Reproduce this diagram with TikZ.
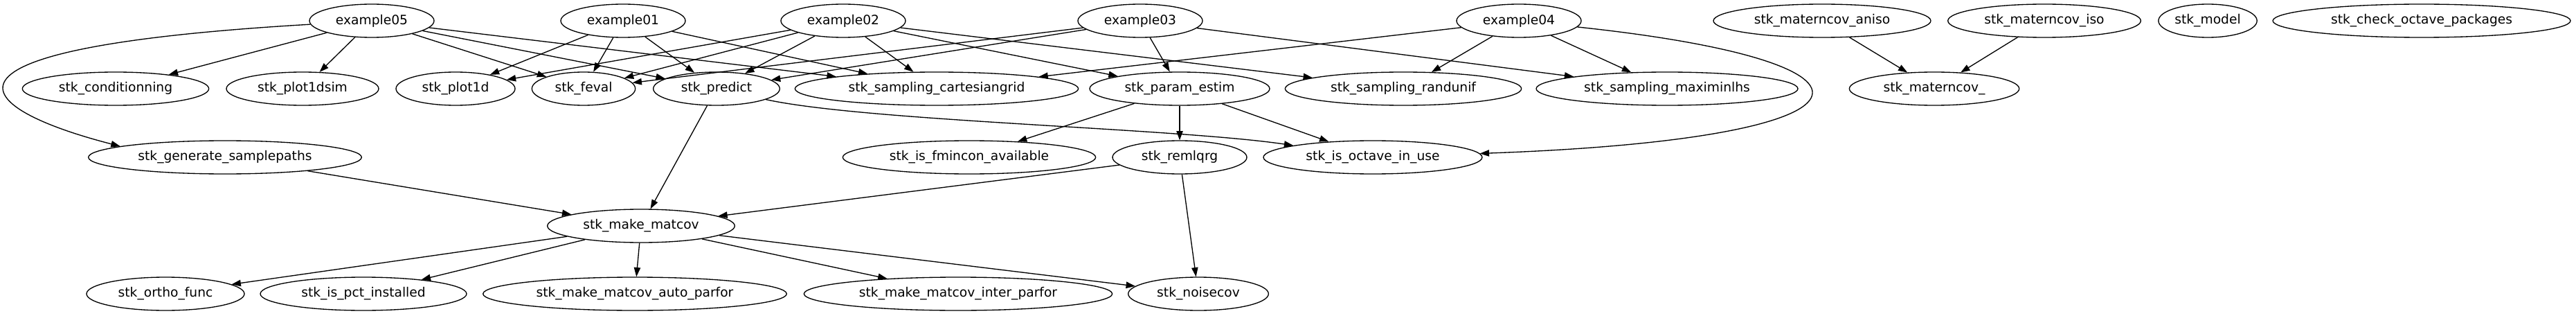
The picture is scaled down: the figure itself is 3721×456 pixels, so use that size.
\documentclass[tikz,border=0pt]{standalone}
\usepackage{fontspec}
\setmainfont{DejaVu Sans}
\usepackage{tikz}
\usetikzlibrary{arrows.meta,shapes.geometric}

\begin{document}
\begin{tikzpicture}[
  x=0.75pt,y=-0.75pt,
  font=\fontsize{14pt}{17pt}\selectfont,
  fn/.style={ellipse,draw,line width=1pt,inner sep=2pt,minimum height=36pt,minimum width=#1},
  fn/.default=135pt,
  flow/.style={-{Triangle[length=10pt,width=7pt]},line width=1pt},
]
\useasboundingbox (0,0) rectangle (3721,456);
\fill[white] (0,0) rectangle (3721,456);

% examples and the free-standing functions
\node[fn] (ex05) at (537,30) {example05};
\node[fn] (ex01) at (900,30) {example01};
\node[fn] (ex02) at (1218,30) {example02};
\node[fn] (ex03) at (1647,30) {example03};
\node[fn] (ex04) at (2194,30) {example04};
\node[fn=235.5pt] (aniso) at (2632,30) {stk\_materncov\_aniso};
\node[fn=209pt] (iso) at (2953,30) {stk\_materncov\_iso};
\node[fn=106.5pt] (model) at (3189,30) {stk\_model};
\node[fn=322.5pt] (checkpkg) at (3498,30) {stk\_check\_octave\_packages};

\node[fn=202pt] (cond) at (167,128) {stk\_conditionning};
\node[fn=165pt] (plotsim) at (437,128) {stk\_plot1dsim};
\node[fn=129pt] (plotd) at (658,128) {stk\_plot1d};
\node[fn=112pt] (feval) at (843,128) {stk\_feval};
\node[fn=137pt] (predict) at (1035,128) {stk\_predict};
\node[fn=307pt] (cartgrid) at (1353,128) {stk\_sampling\_cartesiangrid};
\node[fn=195pt] (paramest) at (1704,128) {stk\_param\_estim};
\node[fn=256pt] (randunif) at (2027,128) {stk\_sampling\_randunif};
\node[fn=283.5pt] (maximin) at (2408,128) {stk\_sampling\_maximinlhs};
\node[fn=184pt] (matcovu) at (2794,128) {stk\_materncov\_};

\node[fn=296pt] (genpaths) at (325,227) {stk\_generate\_samplepaths};
\node[fn=274pt] (fmincon) at (1400,227) {stk\_is\_fmincon\_available};
\node[fn=145.5pt] (remlqrg) at (1704,227) {stk\_remlqrg};
\node[fn=237pt] (octave) at (1983,227) {stk\_is\_octave\_in\_use};

\node[fn=203pt] (makematcov) at (926,326) {stk\_make\_matcov};

\node[fn=171pt] (ortho) at (239,424) {stk\_ortho\_func};
\node[fn=223.5pt] (pct) at (525,424) {stk\_is\_pct\_installed};
\node[fn=329pt] (autopar) at (917,424) {stk\_make\_matcov\_auto\_parfor};
\node[fn=334pt] (interpar) at (1384,424) {stk\_make\_matcov\_inter\_parfor};
\node[fn=152pt] (noisecov) at (1731,424) {stk\_noisecov};

\draw[flow] (ex05) .. controls (-150,70) and (-33,158) .. (genpaths.174);
\draw[flow] (ex05) -- (cond);
\draw[flow] (ex05) -- (plotsim);
\draw[flow] (ex05) -- (feval);
\draw[flow] (ex05) -- (predict);
\draw[flow] (ex05) -- (cartgrid);

\draw[flow] (ex01) -- (plotd);
\draw[flow] (ex01) -- (feval);
\draw[flow] (ex01) -- (predict);
\draw[flow] (ex01) -- (cartgrid);

\draw[flow] (ex02) -- (plotd);
\draw[flow] (ex02) -- (feval);
\draw[flow] (ex02) -- (predict);
\draw[flow] (ex02) -- (cartgrid);
\draw[flow] (ex02) -- (paramest);
\draw[flow] (ex02) -- (randunif);

\draw[flow] (ex03) -- (feval);
\draw[flow] (ex03) -- (predict);
\draw[flow] (ex03) -- (paramest);
\draw[flow] (ex03) -- (maximin);

\draw[flow] (ex04) -- (cartgrid);
\draw[flow] (ex04) -- (randunif);
\draw[flow] (ex04) -- (maximin);
\draw[flow] (ex04) .. controls (2760,90) and (2740,200) .. (octave);

\draw[flow] (aniso) -- (matcovu);
\draw[flow] (iso) -- (matcovu);

\draw[flow] (predict) -- (makematcov);
\draw[flow] (predict) .. controls (1250,175) and (1700,185) .. (octave);
\draw[flow] (paramest) -- (fmincon);
\draw[flow] (paramest) -- (remlqrg);
\draw[flow] (paramest) -- (octave);

\draw[flow] (genpaths) -- (makematcov);
\draw[flow] (remlqrg) -- (makematcov);
\draw[flow] (remlqrg) -- (noisecov);

\draw[flow] (makematcov) -- (ortho);
\draw[flow] (makematcov) -- (pct);
\draw[flow] (makematcov) -- (autopar);
\draw[flow] (makematcov) -- (interpar);
\draw[flow] (makematcov) -- (noisecov);
\end{tikzpicture}
\end{document}
